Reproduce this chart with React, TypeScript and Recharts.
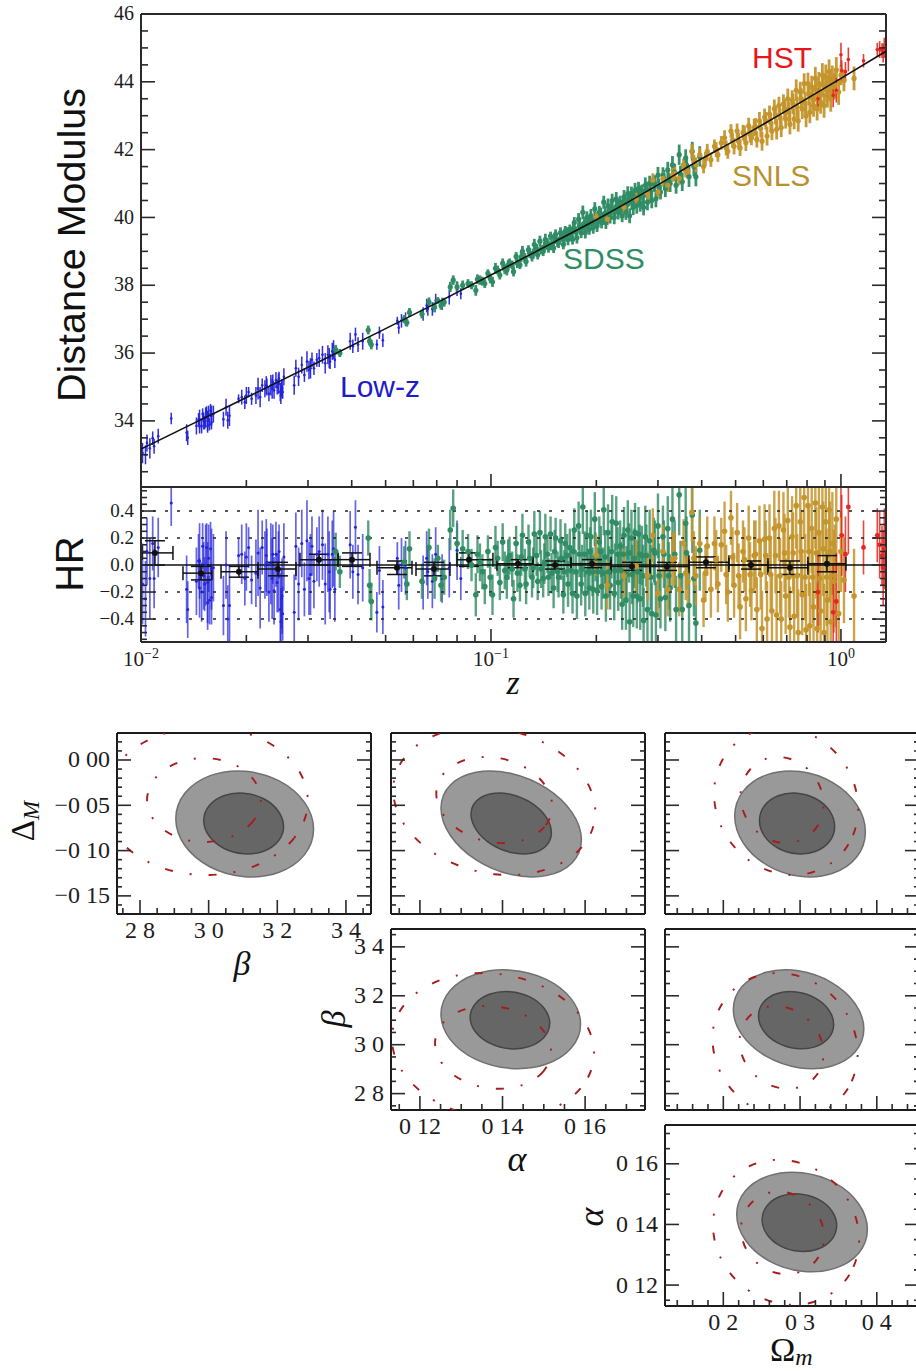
import React from 'react';
import { ScatterChart, Scatter, XAxis, YAxis, ErrorBar, ReferenceLine } from 'recharts';

// supernova rows: [z, distance modulus, hubble residual, error]
const lowRows = [
  [.0101,33.05,-.14,.3],[.0103,33.0,-.25,.28],[.0104,33.35,.1,.25],[.0106,33.19,-.1,.3],[.0108,33.49,.16,.2],[.0109,33.25,-.1,.22],[.0112,33.55,.13,.22],
  [.0122,34.07,.46,.17],[.0135,33.65,-.18,.25],[.0136,33.5,-.33,.21],[.0144,33.85,-.12,.25],[.0146,34.03,.03,.2],[.0147,33.85,-.17,.22],[.0149,33.85,-.2,.22],
  [.015,34.2,.14,.17],[.0151,34.0,-.08,.25],[.0152,33.95,-.14,.2],[.0154,34.25,.13,.18],[.0155,33.85,-.28,.2],[.0156,34.2,.05,.25],[.0157,33.9,-.26,.18],
  [.0158,34.3,.12,.2],[.0159,33.95,-.24,.2],[.0172,34.05,-.3,.22],[.0175,34.4,0,.25],[.0177,34.02,-.4,.25],[.0179,34.15,-.3,.3],[.019,34.65,.07,.13],
  [.0194,34.7,.08,.22],[.0198,34.55,-.1,.2],[.0203,34.85,.13,.15],[.0207,34.65,-.11,.18],[.0216,34.95,.09,.32],[.0219,34.7,-.17,.3],[.0222,35.05,.13,.2],
  [.0226,34.95,0,.25],[.0229,35.0,.02,.25],[.0232,34.8,-.2,.22],[.0235,35.05,.01,.3],[.0238,35.15,.08,.22],[.024,34.9,-.19,.25],[.0243,35.2,.08,.24],
  [.0245,35.0,-.13,.22],[.0248,35.25,.1,.2],[.025,34.85,-.33,.27],[.0252,34.95,-.25,.22],[.0254,34.85,-.36,.2],[.0256,35.3,.06,.25],[.0274,35.05,-.35,.28],
  [.0277,35.55,.14,.25],[.0282,35.3,-.14,.27],[.0288,35.65,.16,.25],[.0293,35.35,-.18,.2],[.0298,35.75,.18,.3],[.0302,35.5,-.1,.27],[.0308,35.8,.14,.22],
  [.0312,35.55,-.12,.2],[.0318,35.8,.08,.2],[.033,35.95,.15,.26],[.0336,35.7,-.14,.3],[.0342,35.95,.08,.28],[.0347,35.75,-.18,.22],[.0352,36.05,.08,.25],
  [.0358,35.8,-.18,.24],[.0396,36.35,.15,.25],[.0403,36.2,-.05,.2],[.041,36.55,.28,.2],[.0417,36.25,-.07,.22],[.0472,36.25,-.35,.15],[.048,36.6,-.04,.18],
  [.0491,36.38,-.31,.2],[.054,36.95,.05,.12],[.0545,36.75,-.15,.18],[.064,37.15,-.13,.2],[.0655,37.4,.05,.2],[.068,37.3,-.12,.2],[.0695,37.55,.08,.2],
  [.0725,37.45,-.1,.18],[.08,37.9,.11,.22],[.082,37.75,-.1,.16],
  [.0147,34.05,.03,.28],[.0153,34.1,0,.3],[.0155,34.0,-.13,.3],[.0159,34.15,-.03,.3],[.0161,34.2,-.02,.25],[.02,34.75,.06,.25],[.0213,34.75,-.06,.25],
  [.0228,35.05,.07,.27],[.0237,34.95,-.1,.3],[.0247,35.1,-.05,.3],[.0251,34.75,-.42,.25],[.0253,34.95,-.23,.28],[.0305,35.55,-.07,.3],[.0323,35.85,.1,.26],
  [.0345,35.85,-.05,.3],[.0355,36.1,.12,.28],[.043,36.35,-.02,.25],[.0555,36.95,0,.2],[.057,37.0,-.02,.2],[.066,37.3,-.05,.2],[.076,37.65,-.02,.22],
];
const sdssRows = [
  [.036,36.1,.1,.14],[.037,36.0,-.05,.12],[.0446,36.68,.2,.13],[.045,36.35,-.15,.12],[.0455,36.25,-.27,.14],[.0565,37.0,.02,.12],[.0575,36.9,-.14,.12],
  [.0585,37.2,.12,.13],[.0635,37.15,-.12,.13],[.0665,37.5,.13,.14],[.069,37.35,-.1,.15],[.0705,37.55,.05,.1],[.072,37.4,-.15,.12],[.0735,37.5,-.09,.13],
  [.0765,37.95,.26,.15],[.078,38.15,.42,.14],[.08,37.95,.16,.15],[.083,38.0,.12,.14],[.086,38.05,.1,.13],[.088,38.0,0,.12],[.0905,37.85,-.22,.16],
  [.093,38.15,.02,.14],[.096,38.05,-.16,.13],[.098,38.35,.1,.12],[.101,38.1,-.22,.15],[.103,38.5,.13,.16],[.106,38.3,-.13,.13],[.108,38.65,.17,.14],
  [.111,38.45,-.09,.16],[.113,38.65,.07,.14],[.116,38.4,-.25,.14],[.118,38.85,.16,.13],[.121,38.6,-.15,.12],[.123,39.0,.22,.16],[.126,38.7,-.14,.15],
  [.128,39.05,.17,.13],[.131,38.85,-.09,.15],[.133,39.2,.23,.17],[.136,38.9,-.12,.14],[.138,39.3,.24,.16],[.141,39.0,-.1,.14],[.143,39.35,.21,.17],
  [.146,39.1,-.09,.14],[.148,39.45,.23,.13],[.151,39.1,-.17,.15],[.153,39.5,.2,.15],[.156,39.25,-.09,.15],[.158,39.55,.18,.16],[.161,39.2,-.22,.14],
  [.163,39.6,.16,.15],[.166,39.35,-.14,.17],[.168,39.65,.13,.14],[.171,39.35,-.21,.15],[.173,39.85,.26,.16],[.176,39.4,-.23,.17],[.178,39.95,.29,.18],
  [.181,39.55,-.14,.16],[.183,40.15,.43,.2],[.186,39.55,-.21,.17],[.188,40.0,.22,.18],[.191,39.65,-.17,.16],[.193,40.05,.21,.2],[.196,39.7,-.18,.18],
  [.198,40.25,.34,.2],[.201,39.75,-.19,.18],[.204,40.15,.17,.19],[.207,39.85,-.16,.17],[.21,40.45,.41,.19],[.213,39.85,-.23,.19],[.216,40.35,.24,.21],
  [.219,40.0,-.15,.18],[.222,40.5,.32,.2],[.225,40.0,-.21,.2],[.228,40.55,.31,.2],[.231,40.15,-.13,.21],[.234,40.45,.14,.19],[.237,40.05,-.29,.19],
  [.24,40.6,.22,.21],[.243,40.15,-.26,.22],[.246,40.7,.26,.22],[.249,40.05,-.42,.22],[.252,40.7,.2,.21],[.255,40.3,-.23,.23],[.258,40.8,.24,.22],
  [.261,40.35,-.23,.24],[.264,40.85,.23,.2],[.267,40.4,-.25,.23],[.27,40.75,.07,.22],[.273,40.3,-.41,.24],[.276,40.95,.21,.23],[.28,40.45,-.33,.24],
  [.284,41.0,.18,.23],[.288,40.5,-.36,.23],[.292,41.0,.11,.24],[.296,40.55,-.37,.25],[.3,41.25,.29,.24],[.305,40.75,-.25,.22],[.31,41.25,.21,.23],
  [.315,40.85,-.24,.25],[.32,41.4,.27,.24],[.325,41.0,-.17,.25],[.33,41.55,.34,.26],[.338,40.95,-.33,.25],[.345,41.85,.52,.3],[.352,41.05,-.33,.27],
  [.36,41.75,.31,.26],[.368,41.2,-.3,.3],[.376,41.95,.37,.28],[.385,41.2,-.43,.28],[.395,41.8,.11,.3],
  [.0915,38.18,.08,.14],[.0945,38.12,-.05,.13],[.0995,38.2,-.09,.14],[.1045,38.45,.05,.13],[.1095,38.47,-.04,.14],[.112,38.6,.04,.15],[.115,38.6,-.03,.13],
  [.119,38.65,-.06,.14],[.122,38.83,.06,.14],[.125,38.8,-.03,.15],[.129,38.95,.05,.14],[.132,38.93,-.02,.15],[.135,39.07,.07,.15],[.139,39.05,-.03,.14],
  [.142,39.13,.01,.15],[.145,39.25,.08,.14],[.149,39.18,-.06,.15],[.152,39.38,.1,.16],[.155,39.28,-.05,.15],[.159,39.44,.05,.16],[.162,39.38,-.05,.16],
  [.165,39.55,.07,.16],[.169,39.5,-.04,.15],[.172,39.68,.1,.17],[.175,39.57,-.05,.16],[.179,39.74,.08,.17],[.182,39.68,-.03,.18],[.185,39.83,.08,.17],
  [.189,39.75,-.05,.17],[.192,39.93,.1,.18],[.195,39.82,-.05,.18],[.199,39.98,.06,.18],[.202,39.9,-.05,.18],[.206,40.1,.1,.19],[.209,39.97,-.06,.19],
  [.212,40.13,.06,.2],[.217,40.07,-.05,.19],[.221,40.27,.1,.2],[.226,40.18,-.04,.2],[.23,40.35,.08,.2],[.235,40.28,-.04,.21],[.239,40.45,.08,.2],
  [.244,40.35,-.07,.21],[.248,40.55,.09,.22],[.253,40.44,-.07,.22],[.257,40.6,.05,.22],[.262,40.55,-.05,.23],[.266,40.72,.08,.22],[.272,40.62,-.08,.23],
  [.278,40.83,.07,.23],[.286,40.75,-.09,.24],[.294,41.0,.09,.24],[.302,40.9,-.08,.24],[.312,41.15,.08,.25],[.322,41.07,-.08,.25],[.335,41.33,.08,.25],
  [.348,41.27,-.08,.26],[.362,41.55,.09,.27],[.38,41.5,-.1,.28],
];
const snlsRows = [
  [.2,40.0,.07,.15],[.215,39.95,-.15,.18],[.24,40.3,-.08,.2],[.26,40.55,-.01,.2],[.28,40.7,-.08,.18],[.29,41.1,.22,.2],[.3,40.75,-.21,.18],[.31,41.15,.1,.2],
  [.32,40.95,-.18,.2],[.335,41.3,.05,.2],[.345,41.15,-.18,.2],[.355,41.55,.16,.18],[.365,41.35,-.12,.2],[.375,41.95,.39,.22],[.385,41.55,-.08,.22],
  [.395,41.85,.16,.2],[.405,41.5,-.26,.2],[.415,41.95,.14,.22],[.425,41.7,-.18,.21],[.435,42.1,.16,.2],[.445,41.85,-.14,.21],[.455,42.2,.15,.2],
  [.465,42.35,.25,.22],[.475,41.95,-.2,.22],[.485,42.55,.35,.2],[.495,42.1,-.15,.24],[.505,42.55,.24,.22],[.515,42.05,-.31,.24],[.525,42.5,.1,.23],
  [.535,42.2,-.25,.24],[.545,42.7,.2,.24],[.555,42.35,-.19,.22],[.565,42.65,.07,.26],[.575,42.3,-.33,.24],[.585,42.85,.18,.26],[.595,42.25,-.47,.28],
  [.605,42.95,.19,.26],[.615,42.4,-.4,.28],[.625,43.05,.2,.25],[.635,42.55,-.34,.27],[.645,43.2,.27,.28],[.655,42.6,-.37,.3],[.665,43.3,.29,.26],
  [.675,42.65,-.4,.28],[.685,43.35,.26,.28],[.695,42.9,-.23,.28],[.705,43.5,.33,.3],[.715,42.75,-.46,.3],[.725,43.45,.21,.3],[.735,42.9,-.38,.3],
  [.745,43.75,.44,.32],[.755,42.85,-.5,.32],[.765,43.7,.32,.3],[.775,43.2,-.22,.3],[.785,43.95,.5,.3],[.795,43.0,-.48,.34],[.805,43.95,.44,.32],
  [.815,43.1,-.45,.32],[.825,43.85,.27,.33],[.835,43.3,-.31,.33],[.845,44.1,.46,.34],[.855,43.2,-.47,.34],[.865,43.95,.24,.34],[.875,43.4,-.34,.34],
  [.885,44.2,.43,.35],[.895,43.3,-.5,.36],[.905,44.15,.32,.36],[.915,43.6,-.26,.36],[.925,44.3,.41,.36],[.935,43.5,-.42,.38],[.945,44.1,.16,.38],
  [.955,43.85,-.12,.38],[.97,44.35,.34,.38],[.985,43.7,-.36,.38],[1.0,44.2,.1,.3],[1.02,44.04,-.11,.32],[1.09,44.1,-.23,.35],
  [.33,41.25,.04,.2],[.36,41.38,-.06,.2],[.38,41.65,.05,.2],[.41,41.72,-.06,.21],[.44,42.0,.04,.22],[.47,42.05,-.07,.22],[.49,42.28,.06,.22],[.51,42.25,-.08,.24],
  [.53,42.47,.04,.24],[.55,42.45,-.07,.24],[.57,42.68,.08,.25],[.59,42.62,-.07,.26],[.61,42.85,.07,.26],[.63,42.8,-.07,.27],[.65,43.02,.07,.28],[.67,42.95,-.08,.28],
  [.69,43.2,.09,.29],[.71,43.1,-.09,.3],[.73,43.35,.09,.3],[.75,43.25,-.08,.31],[.77,43.5,.1,.31],[.79,43.38,-.09,.32],[.81,43.63,.1,.33],[.83,43.5,-.09,.34],
  [.85,43.75,.09,.34],[.87,43.62,-.1,.35],[.89,43.9,.12,.35],[.91,43.75,-.09,.36],[.93,44.0,.1,.37],[.96,43.9,-.08,.38],
];
const hstRows = [
  [.86,43.5,-.2,.3],[.95,43.6,-.35,.35],[.97,43.75,-.27,.36],[1.0,44.8,.7,.35],[1.005,44.33,.22,.3],[1.03,44.3,.08,.28],[1.05,44.66,.43,.35],[1.16,44.62,.13,.2],
  [1.27,44.95,.22,.2],[1.29,44.95,.15,.25],[1.31,44.92,.07,.22],[1.32,44.85,-.02,.28],[1.33,45.0,.12,.3],
];
const modelZ = [.01,.015,.02,.03,.05,.07,.1,.15,.2,.3,.4,.5,.7,1,1.345];
const modelMu = [33.17,34.06,34.69,35.58,36.72,37.48,38.3,39.25,39.93,40.96,41.73,42.28,43.15,44.1,44.9];
// binned residuals: [z, hr, z low, z high, error]
const binRows = [
  [.01096,.09,.01007,.01234,.09],[.01484,-.06,.01318,.01595,.05],[.01905,-.05,.01693,.02159,.04],[.02462,-.03,.02159,.02773,.05],[.03225,.04,.02846,.03656,.04],
  [.04008,.04,.03656,.04511,.05],[.05388,-.02,.04724,.05947,.05],[.06873,-.03,.06106,.07635,.05],[.08653,.04,.07996,.1013,.05],[.1194,.01,.104,.1318,.03],
  [.1524,0,.1318,.1693,.03],[.1944,.01,.1693,.2202,.03],[.2529,-.01,.2202,.2846,.03],[.3184,-.01,.2846,.3679,.03],[.4115,.02,.3679,.4786,.04],
  [.5534,0,.4786,.6186,.03],[.7151,-.02,.6186,.8047,.05],[.912,.01,.8047,1.0335,.06],
];

const zTicks = [.01,.02,.03,.04,.05,.06,.07,.08,.09,.1,.2,.3,.4,.5,.6,.7,.8,.9,1];
const zMajors = [.01,.1,1];
const zPowers: Record<string, string> = { '0.01': '−2', '0.1': '−1', '1': '0' };
const muTicks = [32.5,33,33.5,34,34.5,35,35.5,36,36.5,37,37.5,38,38.5,39,39.5,40,40.5,41,41.5,42,42.5,43,43.5,44,44.5,45,45.5,46];
const muLabels: Record<string, string> = { '34': '34', '36': '36', '38': '38', '40': '40', '42': '42', '44': '44', '46': '46' };
const hrTicks = [-.55,-.5,-.45,-.4,-.35,-.3,-.25,-.2,-.15,-.1,-.05,0,.05,.1,.15,.2,.25,.3,.35,.4,.45,.5,.55];
const hrLabels: Record<string, string> = { '0.4': '0.4', '0.2': '0.2', '0': '0.0', '-0.2': '−0.2', '-0.4': '−0.4' };
const hrDotted = [-.4,-.2,.2,.4];
const hrDomain = [-.57, .578];

const betaTicks = [2.75,2.8,2.85,2.9,2.95,3,3.05,3.1,3.15,3.2,3.25,3.3,3.35,3.4,3.45];
const betaLabels: Record<string, string> = { '2.8': '2 8', '3': '3 0', '3.2': '3 2', '3.4': '3 4' };
const alphaTicks = [.115,.12,.125,.13,.135,.14,.145,.15,.155,.16,.165,.17];
const alphaLabels: Record<string, string> = { '0.12': '0 12', '0.14': '0 14', '0.16': '0 16' };
const omegaTicks = [.14,.16,.18,.2,.22,.24,.26,.28,.3,.32,.34,.36,.38,.4,.42,.44];
const omegaLabels: Record<string, string> = { '0.2': '0 2', '0.3': '0 3', '0.4': '0 4' };
const dmTicks = [.02,.01,0,-.01,-.02,-.03,-.04,-.05,-.06,-.07,-.08,-.09,-.1,-.11,-.12,-.13,-.14,-.15,-.16];
const dmLabels: Record<string, string> = { '0': '0 00', '-0.05': '−0 05', '-0.1': '−0 10', '-0.15': '−0 15' };

const betaDomain = [2.733, 3.473];
const alphaDomain = [.113, .1745];
const omegaDomain = [.124, .455];
const dmDomain = [-.17, .0298];
const alphaYDomain = [.1131, .1728];

// beta / delta M
const p1OuterX = [3.315,3.287,3.21,3.105,3.0,2.923,2.895,2.923,3.0,3.105,3.21,3.287];
const p1OuterY = [-.0767,-.1063,-.1264,-.1315,-.1203,-.0958,-.0645,-.0349,-.0148,-.0097,-.0209,-.0454];
const p1InnerX = [3.224,3.207,3.163,3.102,3.041,2.997,2.98,2.997,3.041,3.102,3.163,3.207];
const p1InnerY = [-.0736,-.0907,-.1022,-.1051,-.0987,-.0846,-.0666,-.0495,-.038,-.0351,-.0415,-.0556];
const p1RedInX = [3.16,3.136,3.073,2.986,2.899,2.836,2.813,2.836,2.899,2.986,3.073,3.136];
const p1RedInY = [-.0442,-.0685,-.0862,-.0927,-.0862,-.0685,-.0442,-.0199,-.0022,.0043,-.0022,-.0199];
const p1RedOutX = [3.303,3.261,3.147,2.992,2.837,2.723,2.682,2.723,2.837,2.992,3.147,3.261];
const p1RedOutY = [-.0453,-.0881,-.1193,-.1308,-.1193,-.0881,-.0453,-.0025,.0287,.0402,.0287,-.0025];
// alpha / delta M
const p2OuterX = [.1599,.1575,.151,.1421,.1332,.1267,.1243,.1267,.1332,.1421,.151,.1575];
const p2OuterY = [-.089,-.1157,-.1303,-.129,-.112,-.0839,-.0522,-.0255,-.0109,-.0122,-.0292,-.0573];
const p2InnerX = [.1523,.1509,.1472,.1421,.137,.1333,.1319,.1333,.137,.1421,.1472,.1509];
const p2InnerY = [-.0807,-.096,-.1045,-.1037,-.0939,-.0777,-.0595,-.0442,-.0357,-.0365,-.0463,-.0625];
const p2RedInX = [.1527,.1507,.1454,.138,.1306,.1253,.1233,.1253,.1306,.138,.1454,.1507];
const p2RedInY = [-.0517,-.0752,-.0905,-.0934,-.083,-.0623,-.0367,-.0132,.0021,.005,-.0054,-.0261];
const p2RedOutX = [.1636,.1602,.1508,.138,.1252,.1158,.1124,.1158,.1252,.138,.1508,.1602];
const p2RedOutY = [-.0581,-.0987,-.1249,-.1299,-.1121,-.0765,-.0325,.0081,.0343,.0393,.0215,-.0141];
// omega / delta M
const p3OuterX = [.3891,.3772,.3446,.3,.2554,.2228,.2109,.2228,.2554,.3,.3446,.3772];
const p3OuterY = [-.0798,-.1088,-.1276,-.1311,-.1184,-.0929,-.0614,-.0324,-.0136,-.0101,-.0228,-.0483];
const p3InnerX = [.3474,.3405,.3218,.2961,.2704,.2517,.2448,.2517,.2704,.2961,.3218,.3405];
const p3InnerY = [-.0736,-.0907,-.1022,-.1051,-.0987,-.0846,-.0666,-.0495,-.038,-.0351,-.0415,-.0556];
const p3RedInX = [.3331,.3255,.3048,.2765,.2482,.2275,.2199,.2275,.2482,.2765,.3048,.3255];
const p3RedInY = [-.0492,-.0732,-.0895,-.0937,-.0846,-.0646,-.0392,-.0152,.0011,.0053,-.0038,-.0238];
const p3RedOutX = [.3801,.3669,.331,.2818,.2326,.1967,.1835,.1967,.2326,.2818,.331,.3669];
const p3RedOutY = [-.0539,-.0952,-.1233,-.1304,-.1147,-.0804,-.0367,.0046,.0327,.0398,.0241,-.0102];
// alpha / beta
const p4OuterX = [.1597,.1573,.1509,.142,.1331,.1267,.1243,.1267,.1331,.142,.1509,.1573];
const p4OuterY = [3.083,2.981,2.911,2.894,2.932,3.017,3.125,3.228,3.297,3.314,3.276,3.191];
const p4InnerX = [.1519,.1505,.1468,.1418,.1368,.1331,.1317,.1331,.1368,.1418,.1468,.1505];
const p4InnerY = [3.088,3.028,2.988,2.978,3.001,3.05,3.112,3.172,3.212,3.222,3.2,3.15];
const p4RedInX = [.1524,.1504,.1451,.1377,.1303,.125,.123,.125,.1303,.1377,.1451,.1504];
const p4RedInY = [2.971,2.886,2.827,2.813,2.845,2.916,3.007,3.093,3.151,3.165,3.133,3.062];
const p4RedOutX = [.1633,.1599,.1505,.1377,.1249,.1155,.1121,.1155,.1249,.1377,.1505,.1599];
const p4RedOutY = [2.964,2.813,2.711,2.685,2.742,2.867,3.026,3.177,3.28,3.305,3.248,3.123];
// omega / beta
const p5OuterX = [.3871,.3752,.3426,.2981,.2536,.221,.2091,.221,.2536,.2981,.3426,.3752];
const p5OuterY = [3.062,2.964,2.903,2.897,2.946,3.037,3.146,3.244,3.305,3.311,3.262,3.171];
const p5InnerX = [.3461,.3392,.3205,.2948,.2691,.2504,.2435,.2504,.2691,.2948,.3205,.3392];
const p5InnerY = [3.082,3.024,2.986,2.979,3.004,3.055,3.118,3.177,3.214,3.221,3.196,3.145];
const p5RedInX = [.3332,.3255,.3046,.2759,.2472,.2263,.2186,.2263,.2472,.2759,.3046,.3255];
const p5RedInY = [2.962,2.878,2.824,2.814,2.851,2.924,3.016,3.1,3.154,3.164,3.127,3.054];
const p5RedOutX = [.3795,.3662,.33,.2805,.231,.1948,.1815,.1948,.231,.2805,.33,.3662];
const p5RedOutY = [2.964,2.813,2.711,2.685,2.742,2.867,3.026,3.177,3.28,3.305,3.248,3.123];
// omega / alpha
const p6OuterX = [.3917,.3798,.3472,.3026,.258,.2254,.2135,.2254,.258,.3026,.3472,.3798];
const p6OuterY = [.1382,.13,.1248,.1238,.1273,.1345,.1434,.1516,.1568,.1578,.1543,.1471];
const p6InnerX = [.35,.3432,.3246,.2991,.2736,.255,.2482,.255,.2736,.2991,.3246,.3432];
const p6InnerY = [.1396,.1348,.1315,.1307,.1325,.1365,.1416,.1464,.1497,.1505,.1487,.1447];
const p6RedInX = [.3338,.3262,.3055,.2772,.2489,.2282,.2206,.2282,.2489,.2772,.3055,.3262];
const p6RedInY = [.1358,.1289,.1242,.123,.1256,.1313,.1386,.1455,.1502,.1514,.1488,.1431];
const p6RedOutX = [.3815,.3681,.3317,.2818,.2319,.1955,.1821,.1955,.2319,.2818,.3317,.3681];
const p6RedOutY = [.1349,.1228,.1145,.1125,.1171,.1271,.1399,.152,.1603,.1623,.1577,.1477];

const SERIF = '"Liberation Serif", serif';
const SANS = '"Liberation Sans", sans-serif';
const INK = '#2a2a2a';

const zip = (xs: number[], ys: number[]) => xs.map((x, i) => ({ x, y: ys[i] }));
const noDot = () => <g />;

// tick that is a short line going into the plot, and an optional label outside it
function axisTick(side: string, isMajor: (v: number) => boolean, long: number, short: number, label?: (v: number) => string | undefined, fontSize = 20) {
  return (p: any) => {
    const v = p.payload.value;
    const len = isMajor(v) ? long : short;
    const text = label ? label(v) : undefined;
    const dx = side === 'left' ? len : side === 'right' ? -len : 0;
    const dy = side === 'bottom' ? -len : side === 'top' ? len : 0;
    return (
      <g>
        <line x1={p.x} y1={p.y} x2={p.x + dx} y2={p.y + dy} stroke={INK} strokeWidth={1.6} />
        {text && side === 'left' && (
          <text x={p.x - 7} y={p.y + fontSize * 0.31} textAnchor="end" fontSize={fontSize} fontFamily={SERIF} fill="#1c1c1c">{text}</text>
        )}
        {text && side === 'bottom' && (
          <text x={p.x} y={p.y + 24} textAnchor="middle" fontSize={fontSize} fontFamily={SERIF} fill="#1c1c1c">{text}</text>
        )}
      </g>
    );
  };
}

function powerTick(p: any) {
  const v = p.payload.value;
  const major = zMajors.includes(v);
  return (
    <g>
      <line x1={p.x} y1={p.y} x2={p.x} y2={p.y - (major ? 13 : 7)} stroke={INK} strokeWidth={1.6} />
      {major && (
        <text x={p.x} y={p.y + 24} textAnchor="middle" fontSize={21} fontFamily={SERIF} fill="#1c1c1c">
          10<tspan dy={-8} fontSize={14}>{zPowers[String(v)]}</tspan>
        </text>
      )}
    </g>
  );
}

type Row = number[];

// error bars are not clipped by the chart, so the residual panel trims them to its range
function supernovae(rows: Row[], column: number, color: string, r: number, key: string, opacity: number, width: number, range?: number[]) {
  const data = rows.map((row) => {
    const y = row[column];
    const e = row[3];
    return { x: row[0], y, err: range ? [y - Math.max(y - e, range[0]), Math.min(y + e, range[1]) - y] : e };
  });
  return (
    <Scatter key={key} data={data} isAnimationActive={false} shape={(p: any) => <circle cx={p.cx} cy={p.cy} r={r} fill={color} />}>
      <ErrorBar dataKey="err" direction="y" width={0} stroke={color} strokeWidth={width} opacity={opacity} isAnimationActive={false} />
    </Scatter>
  );
}

const BLUE = '#2323dc';
const GREEN = '#2f8c64';
const GOLD = '#c4952c';
const RED = '#e8261f';

function HubblePlot() {
  const majorMu = (v: number) => Number.isInteger(v) && v % 2 === 0;
  const majorZ = (v: number) => zMajors.includes(v);
  return (
    <div style={{ position: 'absolute', left: 41, top: 0 }}>
      <ScatterChart width={855} height={497} margin={{ left: 99, top: 13, right: 9, bottom: 9 }}>
        <XAxis dataKey="x" type="number" scale="log" domain={[.01, 1.345]} allowDataOverflow ticks={zTicks} interval={0} height={1} tickSize={0} tickMargin={0} tickLine={false} axisLine={{ stroke: INK, strokeWidth: 2 }} tick={axisTick('bottom', majorZ, 13, 7)} />
        <XAxis xAxisId="t" orientation="top" type="number" scale="log" domain={[.01, 1.345]} allowDataOverflow ticks={zTicks} interval={0} height={1} tickSize={0} tickMargin={0} tickLine={false} axisLine={{ stroke: INK, strokeWidth: 2 }} tick={axisTick('top', majorZ, 13, 7)} />
        <YAxis dataKey="y" type="number" domain={[32.05, 46]} allowDataOverflow ticks={muTicks} interval={0} width={1} tickSize={0} tickMargin={0} tickLine={false} axisLine={{ stroke: INK, strokeWidth: 2 }} tick={axisTick('left', majorMu, 14, 7, (v) => muLabels[String(v)], 20)} />
        <YAxis yAxisId="r" orientation="right" type="number" domain={[32.05, 46]} allowDataOverflow ticks={muTicks} interval={0} width={1} tickSize={0} tickMargin={0} tickLine={false} axisLine={{ stroke: INK, strokeWidth: 2 }} tick={axisTick('right', majorMu, 14, 7)} />
        {supernovae(lowRows, 1, BLUE, 1.3, 'low', 0.95, 1.5)}
        {supernovae(sdssRows, 1, GREEN, 2.6, 'sdss', 0.95, 2.8)}
        {supernovae(snlsRows, 1, GOLD, 2.6, 'snls', 0.95, 2.8)}
        {supernovae(hstRows, 1, RED, 1.8, 'hst', 0.9, 1.6)}
        <Scatter data={zip(modelZ, modelMu)} isAnimationActive={false} shape={noDot} line={{ stroke: '#111', strokeWidth: 1.6 }} lineJointType="monotoneX" />
      </ScatterChart>
    </div>
  );
}

function ResidualPlot() {
  const majorHr = (v: number) => hrLabels[String(v)] !== undefined;
  const majorZ = (v: number) => zMajors.includes(v);
  const bins = binRows.map((b) => ({ x: b[0], y: b[1], zErr: [b[0] - b[2], b[3] - b[0]], err: b[4] }));
  return (
    <div style={{ position: 'absolute', left: 41, top: 477 }}>
      <ScatterChart width={855} height={215} margin={{ left: 99, top: 9, right: 9, bottom: 49 }}>
        <XAxis dataKey="x" type="number" scale="log" domain={[.01, 1.345]} allowDataOverflow ticks={zTicks} interval={0} height={1} tickSize={0} tickMargin={0} tickLine={false} axisLine={{ stroke: INK, strokeWidth: 2 }} tick={powerTick} />
        <XAxis xAxisId="t" orientation="top" type="number" scale="log" domain={[.01, 1.345]} allowDataOverflow ticks={zTicks} interval={0} height={1} tickSize={0} tickMargin={0} tickLine={false} axisLine={{ stroke: INK, strokeWidth: 2 }} tick={axisTick('top', majorZ, 13, 7)} />
        <YAxis dataKey="y" type="number" domain={hrDomain} allowDataOverflow ticks={hrTicks} interval={0} width={1} tickSize={0} tickMargin={0} tickLine={false} axisLine={{ stroke: INK, strokeWidth: 2 }} tick={axisTick('left', majorHr, 14, 6, (v) => hrLabels[String(v)], 19)} />
        <YAxis yAxisId="r" orientation="right" type="number" domain={hrDomain} allowDataOverflow ticks={hrTicks} interval={0} width={1} tickSize={0} tickMargin={0} tickLine={false} axisLine={{ stroke: INK, strokeWidth: 2 }} tick={axisTick('right', majorHr, 14, 6)} />
        {supernovae(lowRows, 2, BLUE, 1.5, 'low', 0.7, 1.7, hrDomain)}
        {supernovae(sdssRows, 2, GREEN, 2.8, 'sdss', 0.8, 2.4, hrDomain)}
        {supernovae(snlsRows, 2, GOLD, 2.8, 'snls', 0.85, 2.4, hrDomain)}
        {supernovae(hstRows, 2, RED, 2.4, 'hst', 0.85, 1.6, hrDomain)}
        {hrDotted.map((v) => (
          <ReferenceLine key={v} y={v} stroke="#222" strokeWidth={1.4} strokeDasharray="3 9" />
        ))}
        <ReferenceLine y={0} stroke="#111" strokeWidth={1.6} />
        <Scatter data={bins} isAnimationActive={false} shape={(p: any) => <circle cx={p.cx} cy={p.cy} r={3} fill="#111" />}>
          <ErrorBar dataKey="err" direction="y" width={10} stroke="#111" strokeWidth={1.5} isAnimationActive={false} />
          <ErrorBar dataKey="zErr" direction="x" width={7} stroke="#111" strokeWidth={1.5} isAnimationActive={false} />
        </Scatter>
      </ScatterChart>
    </div>
  );
}

const RED_CONTOUR = { stroke: '#a81c1c', strokeWidth: 1.9, strokeDasharray: '8 17 2 17' };

interface PanelProps {
  left: number;
  top: number;
  xDomain: number[];
  yDomain: number[];
  xTicks: number[];
  yTicks: number[];
  xLabels: Record<string, string>;
  yLabels: Record<string, string>;
  showX?: boolean;
  showY?: boolean;
  outer: { x: number; y: number }[];
  inner: { x: number; y: number }[];
  redIn: { x: number; y: number }[];
  redOut: { x: number; y: number }[];
}

function Panel({ left, top, xDomain, yDomain, xTicks, yTicks, xLabels, yLabels, showX, showY, outer, inner, redIn, redOut }: PanelProps) {
  const axisLine = { stroke: '#1c1c1c', strokeWidth: 2 };
  const isX = (v: number) => xLabels[String(v)] !== undefined;
  const isY = (v: number) => yLabels[String(v)] !== undefined;
  return (
    <div style={{ position: 'absolute', left: left - 70, top: top - 10 }}>
      <ScatterChart width={334} height={231} margin={{ left: 69, top: 9, right: 9, bottom: 39 }}>
        <XAxis dataKey="x" type="number" domain={xDomain} allowDataOverflow ticks={xTicks} interval={0} height={1} tickSize={0} tickMargin={0} tickLine={false} axisLine={axisLine} tick={axisTick('bottom', isX, 14, 6, showX ? (v) => xLabels[String(v)] : undefined, 24)} />
        <XAxis xAxisId="t" orientation="top" type="number" domain={xDomain} allowDataOverflow ticks={xTicks} interval={0} height={1} tickSize={0} tickMargin={0} tickLine={false} axisLine={axisLine} tick={axisTick('top', isX, 14, 6)} />
        <YAxis dataKey="y" type="number" domain={yDomain} allowDataOverflow ticks={yTicks} interval={0} width={1} tickSize={0} tickMargin={0} tickLine={false} axisLine={axisLine} tick={axisTick('left', isY, 14, 5, showY ? (v) => yLabels[String(v)] : undefined, 24)} />
        <YAxis yAxisId="r" orientation="right" type="number" domain={yDomain} allowDataOverflow ticks={yTicks} interval={0} width={1} tickSize={0} tickMargin={0} tickLine={false} axisLine={axisLine} tick={axisTick('right', isY, 14, 5)} />
        <Scatter data={outer} isAnimationActive={false} shape={noDot} lineJointType="basisClosed" line={{ stroke: '#707070', strokeWidth: 1.5, fill: '#999999' }} />
        <Scatter data={inner} isAnimationActive={false} shape={noDot} lineJointType="basisClosed" line={{ stroke: '#454545', strokeWidth: 1.5, fill: '#666666' }} />
        <Scatter data={redOut} isAnimationActive={false} shape={noDot} lineJointType="basisClosed" line={RED_CONTOUR} />
        <Scatter data={redIn} isAnimationActive={false} shape={noDot} lineJointType="basisClosed" line={RED_CONTOUR} />
      </ScatterChart>
    </div>
  );
}

function Titles() {
  return (
    <svg width={916} height={1371} style={{ position: 'absolute', left: 0, top: 0, pointerEvents: 'none' }}>
      <text transform="translate(85 245) rotate(-90)" textAnchor="middle" fontSize={39.5} fontFamily={SANS} fill="#111">Distance Modulus</text>
      <text transform="translate(83 564) rotate(-90)" textAnchor="middle" fontSize={38} fontFamily={SANS} fill="#111">HR</text>
      <text x={340} y={397} fontSize={30} fontFamily={SANS} fill="#1c1cc8">Low-z</text>
      <text x={563} y={269} fontSize={30} fontFamily={SANS} fill="#2f8c64">SDSS</text>
      <text x={732} y={186} fontSize={30} fontFamily={SANS} fill="#b8912f">SNLS</text>
      <text x={752} y={68} fontSize={30} fontFamily={SANS} fill="#e8161c">HST</text>
      <text x={513} y={694} textAnchor="middle" fontSize={34} fontStyle="italic" fontFamily={SERIF} fill="#111">z</text>
      <text x={242} y={975} textAnchor="middle" fontSize={34} fontStyle="italic" fontFamily={SERIF} fill="#111">β</text>
      <text x={517} y={1171} textAnchor="middle" fontSize={36} fontStyle="italic" fontFamily={SERIF} fill="#111">α</text>
      <text transform="translate(34 821) rotate(-90)" textAnchor="middle" fontSize={33} fontFamily={SERIF} fill="#111">
        Δ<tspan dy={5} fontSize={23} fontStyle="italic">M</tspan>
      </text>
      <text transform="translate(345 1019) rotate(-90)" textAnchor="middle" fontSize={34} fontStyle="italic" fontFamily={SERIF} fill="#111">β</text>
      <text transform="translate(603 1217) rotate(-90)" textAnchor="middle" fontSize={36} fontStyle="italic" fontFamily={SERIF} fill="#111">α</text>
      <text x={770} y={1361} fontSize={34} fontFamily={SERIF} fill="#111">
        Ω<tspan dy={4} fontSize={24} fontStyle="italic">m</tspan>
      </text>
    </svg>
  );
}

export default function App() {
  return (
    <div style={{ position: 'fixed', left: 0, top: 0, width: 916, height: 1371, overflow: 'hidden', background: '#fff' }}>
      <HubblePlot />
      <ResidualPlot />
      <Panel left={117} top={733} xDomain={betaDomain} yDomain={dmDomain} xTicks={betaTicks} yTicks={dmTicks} xLabels={betaLabels} yLabels={dmLabels} showX showY
        outer={zip(p1OuterX, p1OuterY)} inner={zip(p1InnerX, p1InnerY)} redIn={zip(p1RedInX, p1RedInY)} redOut={zip(p1RedOutX, p1RedOutY)} />
      <Panel left={391} top={733} xDomain={alphaDomain} yDomain={dmDomain} xTicks={alphaTicks} yTicks={dmTicks} xLabels={alphaLabels} yLabels={dmLabels}
        outer={zip(p2OuterX, p2OuterY)} inner={zip(p2InnerX, p2InnerY)} redIn={zip(p2RedInX, p2RedInY)} redOut={zip(p2RedOutX, p2RedOutY)} />
      <Panel left={665} top={733} xDomain={omegaDomain} yDomain={dmDomain} xTicks={omegaTicks} yTicks={dmTicks} xLabels={omegaLabels} yLabels={dmLabels}
        outer={zip(p3OuterX, p3OuterY)} inner={zip(p3InnerX, p3InnerY)} redIn={zip(p3RedInX, p3RedInY)} redOut={zip(p3RedOutX, p3RedOutY)} />
      <Panel left={391} top={929} xDomain={alphaDomain} yDomain={betaDomain} xTicks={alphaTicks} yTicks={betaTicks} xLabels={alphaLabels} yLabels={betaLabels} showX showY
        outer={zip(p4OuterX, p4OuterY)} inner={zip(p4InnerX, p4InnerY)} redIn={zip(p4RedInX, p4RedInY)} redOut={zip(p4RedOutX, p4RedOutY)} />
      <Panel left={665} top={929} xDomain={omegaDomain} yDomain={betaDomain} xTicks={omegaTicks} yTicks={betaTicks} xLabels={omegaLabels} yLabels={betaLabels}
        outer={zip(p5OuterX, p5OuterY)} inner={zip(p5InnerX, p5InnerY)} redIn={zip(p5RedInX, p5RedInY)} redOut={zip(p5RedOutX, p5RedOutY)} />
      <Panel left={665} top={1125} xDomain={omegaDomain} yDomain={alphaYDomain} xTicks={omegaTicks} yTicks={alphaTicks} xLabels={omegaLabels} yLabels={alphaLabels} showX showY
        outer={zip(p6OuterX, p6OuterY)} inner={zip(p6InnerX, p6InnerY)} redIn={zip(p6RedInX, p6RedInY)} redOut={zip(p6RedOutX, p6RedOutY)} />
      <Titles />
    </div>
  );
}
